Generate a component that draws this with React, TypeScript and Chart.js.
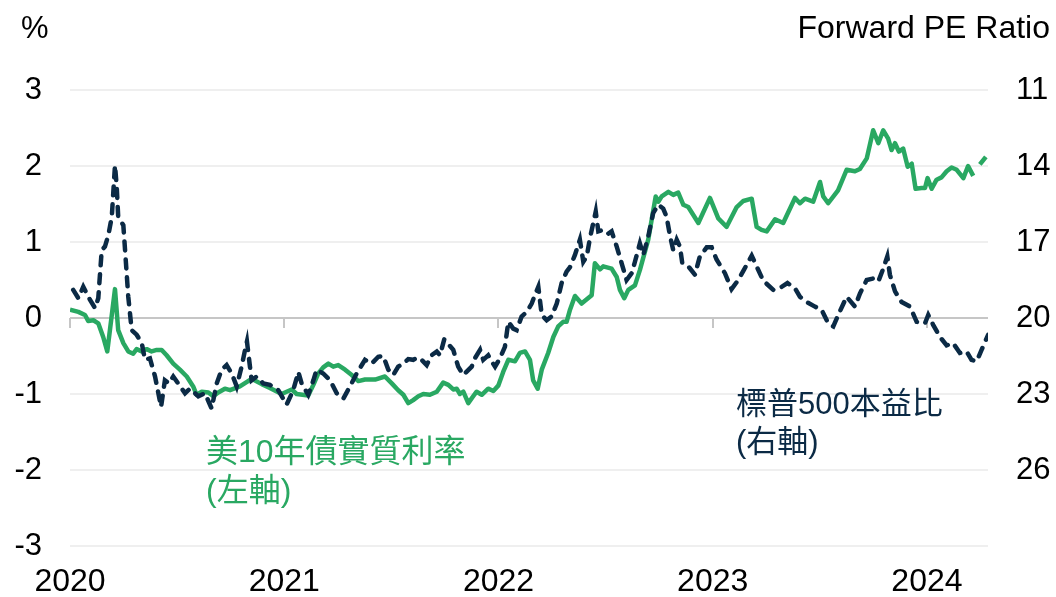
import React, { useEffect, useRef } from "react";
import { Chart, registerables } from "chart.js";

Chart.register(...registerables);

// US 10-year real yield (%), left axis
const realYieldDates = [
  2020.0, 2020.039, 2020.07, 2020.085, 2020.109, 2020.132, 2020.155, 2020.174, 2020.21, 2020.225,
  2020.249, 2020.272, 2020.295, 2020.311, 2020.335, 2020.358, 2020.381, 2020.405, 2020.428, 2020.451,
  2020.482, 2020.513, 2020.545, 2020.575, 2020.591, 2020.615, 2020.646, 2020.669, 2020.692, 2020.723,
  2020.747, 2020.793, 2020.848, 2020.895, 2020.933, 2020.988, 2021.035, 2021.058, 2021.112, 2021.136,
  2021.159, 2021.182, 2021.206, 2021.229, 2021.252, 2021.284, 2021.315, 2021.346, 2021.377, 2021.424,
  2021.47, 2021.502, 2021.532, 2021.556, 2021.579, 2021.602, 2021.626, 2021.649, 2021.68, 2021.712,
  2021.742, 2021.766, 2021.789, 2021.805, 2021.82, 2021.836, 2021.859, 2021.882, 2021.898, 2021.922,
  2021.952, 2021.976, 2021.999, 2022.022, 2022.046, 2022.077, 2022.1, 2022.124, 2022.147, 2022.162,
  2022.183, 2022.202, 2022.232, 2022.256, 2022.279, 2022.302, 2022.318, 2022.334, 2022.357, 2022.388,
  2022.435, 2022.45, 2022.474, 2022.489, 2022.528, 2022.552, 2022.567, 2022.587, 2022.606, 2022.637,
  2022.66, 2022.699, 2022.734, 2022.746, 2022.762, 2022.793, 2022.816, 2022.839, 2022.863, 2022.886,
  2022.933, 2022.987, 2023.026, 2023.065, 2023.112, 2023.143, 2023.182, 2023.205, 2023.228, 2023.252,
  2023.291, 2023.329, 2023.384, 2023.407, 2023.431, 2023.469, 2023.501, 2023.516, 2023.539, 2023.585,
  2023.625, 2023.664, 2023.687, 2023.719, 2023.749, 2023.773, 2023.796, 2023.819, 2023.835, 2023.851,
  2023.869, 2023.889, 2023.91, 2023.929, 2023.947, 2023.975, 2023.991, 2024.003, 2024.022, 2024.045,
  2024.068, 2024.092, 2024.115, 2024.139, 2024.17, 2024.192, 2024.216, 2024.225, 2024.247, 2024.275,
];
const realYieldValues: (number | null)[] = [
  0.11, 0.08, 0.04, -0.04, -0.03, -0.07, -0.25, -0.44, 0.38, -0.16,
  -0.33, -0.44, -0.47, -0.41, -0.44, -0.41, -0.44, -0.42, -0.42, -0.49,
  -0.6, -0.68, -0.77, -0.9, -1.01, -0.97, -0.98, -1.03, -0.98, -0.93,
  -0.95, -0.9, -0.8, -0.87, -0.92, -1.0, -0.94, -1.0, -1.02, -0.88,
  -0.73, -0.65, -0.6, -0.64, -0.62, -0.68, -0.75, -0.83, -0.81, -0.81,
  -0.77, -0.86, -0.95, -1.01, -1.12, -1.08, -1.03, -1.0, -1.01, -0.97,
  -0.85, -0.88, -0.94, -0.93, -1.0, -0.97, -1.12, -1.03, -0.97, -1.01,
  -0.93, -0.96, -0.89, -0.71, -0.55, -0.57, -0.46, -0.44, -0.55, -0.82,
  -0.93, -0.68, -0.46, -0.25, -0.11, -0.05, -0.05, 0.11, 0.29, 0.19,
  0.3, 0.72, 0.64, 0.68, 0.65, 0.54, 0.37, 0.26, 0.37, 0.43,
  0.63, 1.03, 1.6, 1.53, 1.6, 1.66, 1.62, 1.65, 1.49, 1.46,
  1.25, 1.58, 1.31, 1.2, 1.46, 1.54, 1.57, 1.2, 1.16, 1.14,
  1.3, 1.25, 1.58, 1.51, 1.57, 1.53, 1.79, 1.6, 1.51, 1.68,
  1.95, 1.93, 1.96, 2.1, 2.47, 2.3, 2.47, 2.36, 2.21, 2.3,
  2.19, 2.23, 1.99, 2.03, 1.7, 1.71, 1.71, 1.84, 1.7, 1.82,
  1.85, 1.93, 1.98, 1.95, 1.84, 2.0, 1.87, null, 2.02, 2.12,
];

// S&P 500 forward PE ratio, right axis (inverted)
const peDates = [
  2020.015, 2020.039, 2020.062, 2020.093, 2020.117, 2020.132, 2020.148, 2020.163, 2020.179, 2020.195,
  2020.21, 2020.218, 2020.225, 2020.249, 2020.272, 2020.288, 2020.311, 2020.335, 2020.35, 2020.373,
  2020.397, 2020.425, 2020.443, 2020.462, 2020.482, 2020.537, 2020.56, 2020.599, 2020.63, 2020.661,
  2020.685, 2020.708, 2020.731, 2020.755, 2020.778, 2020.801, 2020.817, 2020.826, 2020.84, 2020.848,
  2020.871, 2020.902, 2020.933, 2020.972, 2021.011, 2021.042, 2021.066, 2021.081, 2021.112, 2021.136,
  2021.151, 2021.182, 2021.214, 2021.245, 2021.276, 2021.307, 2021.338, 2021.377, 2021.408, 2021.439,
  2021.462, 2021.486, 2021.509, 2021.532, 2021.556, 2021.579, 2021.602, 2021.623, 2021.641, 2021.665,
  2021.688, 2021.712, 2021.727, 2021.747, 2021.789, 2021.812, 2021.836, 2021.875, 2021.89, 2021.914,
  2021.929, 2021.952, 2021.968, 2021.984, 2022.007, 2022.03, 2022.046, 2022.069, 2022.085, 2022.108,
  2022.132, 2022.155, 2022.167, 2022.186, 2022.202, 2022.225, 2022.248, 2022.272, 2022.295, 2022.318,
  2022.334, 2022.357, 2022.38, 2022.396, 2022.412, 2022.427, 2022.454, 2022.466, 2022.489, 2022.512,
  2022.528, 2022.552, 2022.575, 2022.598, 2022.622, 2022.637, 2022.66, 2022.676, 2022.699, 2022.722,
  2022.746, 2022.769, 2022.785, 2022.8, 2022.816, 2022.832, 2022.847, 2022.858, 2022.886, 2022.917,
  2022.94, 2022.972, 2022.995, 2023.018, 2023.057, 2023.088, 2023.119, 2023.143, 2023.182, 2023.205,
  2023.236, 2023.283, 2023.322, 2023.349, 2023.384, 2023.407, 2023.439, 2023.477, 2023.508, 2023.539,
  2023.563, 2023.586, 2023.625, 2023.664, 2023.687, 2023.719, 2023.749, 2023.773, 2023.796, 2023.815,
  2023.827, 2023.851, 2023.882, 2023.921, 2023.952, 2023.991, 2024.006, 2024.029, 2024.061, 2024.092,
  2024.122, 2024.154, 2024.185, 2024.208, 2024.232, 2024.255, 2024.286,
];
const peValues = [
  18.89, 19.22, 18.77, 19.28, 19.61, 19.22, 17.33, 17.18, 16.73, 16.01,
  13.97, 14.81, 16.01, 16.34, 19.16, 20.48, 20.66, 20.99, 21.65, 21.59,
  22.31, 23.51, 22.46, 22.58, 22.31, 22.97, 22.79, 23.09, 22.97, 23.57,
  22.58, 22.04, 21.86, 22.19, 22.7, 21.92, 21.26, 20.93, 21.92, 22.46,
  22.31, 22.58, 22.64, 22.85, 23.42, 22.85, 22.13, 22.58, 23.03, 22.46,
  22.04, 22.19, 22.46, 22.97, 23.18, 22.7, 22.19, 21.65, 21.8, 21.53,
  21.5, 22.04, 22.25, 21.92, 21.8, 21.62, 21.65, 21.56, 21.65, 21.86,
  21.47, 21.32, 21.47, 20.84, 21.26, 21.92, 22.25, 21.92, 21.59, 21.26,
  21.65, 21.47, 21.71, 21.92, 21.59, 21.14, 20.15, 20.42, 20.48, 19.94,
  19.76, 19.43, 19.16, 18.77, 19.88, 20.09, 19.94, 19.43, 18.62, 18.17,
  17.99, 17.51, 16.91, 17.78, 17.57, 16.85, 15.8, 16.58, 16.52, 16.67,
  16.58, 17.18, 17.84, 18.5, 18.23, 17.78, 17.06, 17.51, 16.79, 15.86,
  15.53, 15.68, 16.01, 16.73, 17.33, 16.91, 17.18, 17.84, 17.96, 18.29,
  17.57, 17.21, 17.21, 17.69, 18.23, 18.86, 18.5, 18.14, 17.54, 17.96,
  18.53, 18.89, 18.77, 18.62, 18.83, 19.16, 19.37, 19.55, 19.67, 20.21,
  20.33, 19.88, 19.16, 19.55, 19.04, 18.5, 18.44, 18.56, 18.05, 17.57,
  18.29, 18.95, 19.37, 19.55, 20.15, 20.21, 19.88, 20.27, 20.75, 21.08,
  20.99, 21.38, 21.32, 21.65, 21.71, 21.26, 20.66,
];

const leftTicks = [-3, -2, -1, 0, 1, 2, 3];
const rightTicks = [11, 14, 17, 20, 23, 26];
const yearTicks = [2020, 2021, 2022, 2023, 2024];

const GREEN = "#29a862";
const NAVY = "#0b2a45";
const FONT = "'Liberation Sans', Arial, sans-serif";
const CJK = "'Liberation Sans', 'Noto Sans CJK TC', sans-serif";

export default function App() {
  const ref = useRef<HTMLCanvasElement | null>(null);

  useEffect(() => {
    const canvas = ref.current;
    if (!canvas) return;

    const overlay = {
      id: "overlay",
      beforeDatasetsDraw(chart: any) {
        const { ctx } = chart;
        const x = chart.scales.x;
        const y = chart.scales.y;
        const y0 = y.getPixelForValue(0);
        ctx.save();
        ctx.strokeStyle = "#c6c6c6";
        ctx.lineWidth = 2;
        yearTicks.forEach((yr) => {
          const px = Math.round(x.getPixelForValue(yr));
          ctx.beginPath();
          ctx.moveTo(px, y0);
          ctx.lineTo(px, y0 + 10);
          ctx.stroke();
        });
        ctx.restore();
      },
      afterDraw(chart: any) {
        const { ctx } = chart;
        ctx.save();
        ctx.textBaseline = "middle";
        ctx.fillStyle = "#000";
        ctx.font = `31px ${FONT}`;
        ctx.textAlign = "left";
        ctx.fillText("%", 21, 29);
        ctx.font = `32px ${FONT}`;
        ctx.textAlign = "right";
        ctx.fillText("Forward PE Ratio", 1050, 29);
        ctx.textAlign = "left";
        ctx.font = `32px ${CJK}`;
        ctx.fillStyle = GREEN;
        ctx.fillText("美10年債實質利率", 206, 453);
        ctx.fillText("(左軸)", 206, 492);
        ctx.font = `31px ${CJK}`;
        ctx.fillStyle = NAVY;
        ctx.fillText("標普500本益比", 736, 405);
        ctx.fillText("(右軸)", 736, 443);
        ctx.restore();
      },
    };

    const chart = new Chart(canvas, {
      type: "line",
      data: {
        datasets: [
          {
            label: "標普500本益比",
            data: peDates.map((d, i) => ({ x: d, y: peValues[i] })),
            yAxisID: "y2",
            borderColor: NAVY,
            borderWidth: 4.5,
            borderDash: [9, 9],
            borderCapStyle: "round",
            pointRadius: 0,
            tension: 0,
            order: 0,
          },
          {
            label: "美10年債實質利率",
            data: realYieldDates.map((d, i) => ({ x: d, y: realYieldValues[i] })),
            yAxisID: "y",
            borderColor: GREEN,
            borderWidth: 4.5,
            borderJoinStyle: "round",
            pointRadius: 0,
            tension: 0,
            spanGaps: false,
            order: 1,
          },
        ],
      },
      options: {
        responsive: false,
        animation: false,
        events: [],
        layout: { padding: { top: 90, left: 0, right: 0, bottom: 0 } },
        plugins: { legend: { display: false }, tooltip: { enabled: false } },
        scales: {
          x: {
            type: "linear",
            min: 2020,
            max: 2024.285,
            grid: { display: false, drawTicks: false },
            border: { display: false },
            afterBuildTicks: (s: any) => {
              s.ticks = yearTicks.map((v) => ({ value: v }));
            },
            afterFit: (s: any) => {
              s.height = 51;
            },
            ticks: {
              color: "#000",
              font: { family: FONT, size: 32 },
              padding: 17,
              maxRotation: 0,
              autoSkip: false,
              callback: (v: any) => String(v),
            },
          },
          y: {
            position: "left",
            min: -3,
            max: 3,
            afterBuildTicks: (s: any) => {
              s.ticks = leftTicks.map((v) => ({ value: v }));
            },
            afterFit: (s: any) => {
              s.width = 70;
            },
            grid: {
              drawTicks: false,
              lineWidth: 2,
              color: (c: any) => (c.tick && c.tick.value === 0 ? "#c6c6c6" : "#efefef"),
            },
            border: { display: false },
            ticks: {
              color: "#000",
              font: { family: FONT, size: 31 },
              padding: 28,
              callback: (v: any) => String(v),
            },
          },
          y2: {
            position: "right",
            reverse: true,
            min: 11,
            max: 29,
            afterBuildTicks: (s: any) => {
              s.ticks = rightTicks.map((v) => ({ value: v }));
            },
            afterFit: (s: any) => {
              s.width = 68;
            },
            grid: { display: false, drawTicks: false },
            border: { display: false },
            ticks: {
              color: "#000",
              font: { family: FONT, size: 31 },
              padding: 28,
              callback: (v: any) => String(v),
            },
          },
        },
      },
      plugins: [overlay],
    } as any);

    return () => chart.destroy();
  }, []);

  return (
    <div style={{ position: "fixed", left: 0, top: 0, width: 1056, height: 597, background: "#fff" }}>
      <canvas ref={ref} width={1056} height={597} style={{ display: "block" }} />
    </div>
  );
}
